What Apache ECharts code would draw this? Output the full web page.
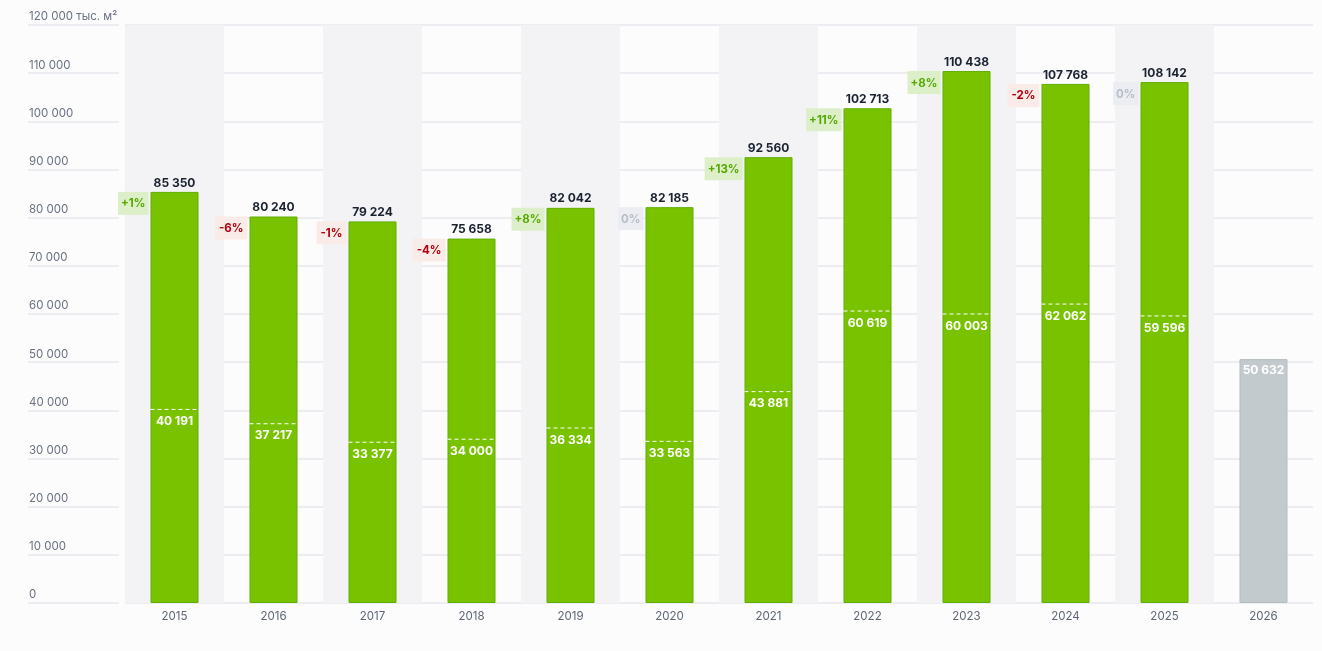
<!DOCTYPE html>
<html>
<head>
<meta charset="utf-8">
<script src="https://cdn.jsdelivr.net/npm/echarts@6/dist/echarts.min.js"></script>
<style>
html,body{margin:0;padding:0;background:#fcfcfd;}
#c{width:1322px;height:651px;}
</style>
</head>
<body>
<div id="c"></div>
<script>
const categories = ['2015','2016','2017','2018','2019','2020','2021','2022','2023','2024','2025','2026'];
const totals = [85350, 80240, 79224, 75658, 82042, 82185, 92560, 102713, 110438, 107768, 108142, 50632];
const firstPart = [40191, 37217, 33377, 34000, 36334, 33563, 43881, 60619, 60003, 62062, 59596, null];
const changes = ['+1%', '-6%', '-1%', '-4%', '+8%', '0%', '+13%', '+11%', '+8%', '-2%', '0%', ''];
const forecastIndex = 11;

function fmt(v){ return String(v).replace(/\B(?=(\d{3})+(?!\d))/g, ' '); }

const FONT = 'Inter, "Noto Sans", sans-serif';
const chart = echarts.init(document.getElementById('c'));
const barW = 48;

chart.setOption({
  backgroundColor: '#fcfcfd',
  animation: false,
  textStyle: { fontFamily: FONT },
  grid: [
    { left: 125, right: 9, top: 25, bottom: 48 },
    { left: 28, width: 91, top: 25, bottom: 48 }
  ],
  xAxis: [
    {
      type: 'category', data: categories, gridIndex: 0,
      axisLine: { show: false }, axisTick: { show: false },
      axisLabel: { color: '#5d6773', fontSize: 11.5, margin: 8, fontFamily: FONT },
      splitArea: { show: true, areaStyle: { color: ['#f3f3f5', 'rgba(0,0,0,0)'] } }
    },
    { type: 'value', gridIndex: 1, show: false, min: 0, max: 1 }
  ],
  yAxis: [
    {
      type: 'value', gridIndex: 0, min: 0, max: 120000, interval: 10000,
      axisLine: { show: false }, axisTick: { show: false }, axisLabel: { show: false },
      splitLine: { lineStyle: { color: '#e7e7ed', width: 1.5 } }
    },
    {
      type: 'value', gridIndex: 1, min: 0, max: 120000, interval: 10000,
      axisLine: { show: false }, axisTick: { show: false },
      axisLabel: {
        inside: true, margin: 1, align: 'left', verticalAlign: 'bottom',
        padding: [0, 0, 2, 0], color: '#6a7280', fontSize: 11.5, fontFamily: FONT,
        formatter: function(v){ return v === 120000 ? fmt(v) + ' тыс. м²' : fmt(v); }
      },
      splitLine: { lineStyle: { color: '#e7e7ed', width: 1.5 } }
    }
  ],
  series: [
    {
      type: 'bar', xAxisIndex: 0, yAxisIndex: 0, barWidth: barW, z: 3,
      data: totals.map(function(v, i){
        if (i === forecastIndex) {
          return {
            value: v,
            itemStyle: { color: '#c3cacd', borderColor: '#b4bcc0', borderWidth: 1 },
            label: { position: 'insideTop', color: '#ffffff', distance: 5 }
          };
        }
        return v;
      }),
      itemStyle: { color: '#79c200', borderColor: '#5faf00', borderWidth: 1 },
      label: {
        show: true, position: 'top', distance: 3, color: '#1b2230',
        fontWeight: 'bold', fontSize: 12, fontFamily: FONT,
        formatter: function(p){ return fmt(p.value); }
      }
    },
    {
      type: 'bar', xAxisIndex: 0, yAxisIndex: 0, barWidth: barW, barGap: '-100%', z: 4,
      data: totals,
      itemStyle: { color: 'rgba(0,0,0,0)' },
      label: {
        show: true, position: [-2, 0], align: 'right', verticalAlign: 'top',
        fontFamily: FONT,
        formatter: function(p){
          const c = changes[p.dataIndex];
          if (!c) return '';
          const k = c.charAt(0) === '+' ? 'p' : (c.charAt(0) === '-' ? 'n' : 'z');
          return '{' + k + '|' + c + '}';
        },
        rich: {
          p: { color: '#56a700', backgroundColor: '#dcefc9', fontWeight: 'bold', fontSize: 11.5, padding: [6, 3, 5, 3], fontFamily: FONT },
          n: { color: '#b3000f', backgroundColor: '#f9ebe7', fontWeight: 'bold', fontSize: 11.5, padding: [6, 4, 5, 4], fontFamily: FONT },
          z: { color: '#b8bdc7', backgroundColor: '#ebedf2', fontWeight: 'bold', fontSize: 11.5, padding: [6, 3, 5, 3], fontFamily: FONT }
        }
      }
    },
    {
      type: 'custom', xAxisIndex: 0, yAxisIndex: 0, z: 5,
      data: firstPart.map(function(v, i){ return [i, v]; }).filter(function(d){ return d[1] != null; }),
      renderItem: function(params, api){
        const pt = api.coord([api.value(0), api.value(1)]);
        const x0 = pt[0] - barW / 2, x1 = pt[0] + barW / 2;
        return {
          type: 'group',
          children: [
            { type: 'line', shape: { x1: x0, y1: pt[1], x2: x1, y2: pt[1] },
              style: { stroke: '#ffffff', lineWidth: 1, lineDash: [4, 3] } },
            { type: 'text', style: { text: fmt(api.value(1)), x: pt[0], y: pt[1] + 6,
              align: 'center', verticalAlign: 'top', fill: '#ffffff',
              font: 'bold 12px ' + FONT } }
          ]
        };
      }
    }
  ]
});
</script>
</body>
</html>
